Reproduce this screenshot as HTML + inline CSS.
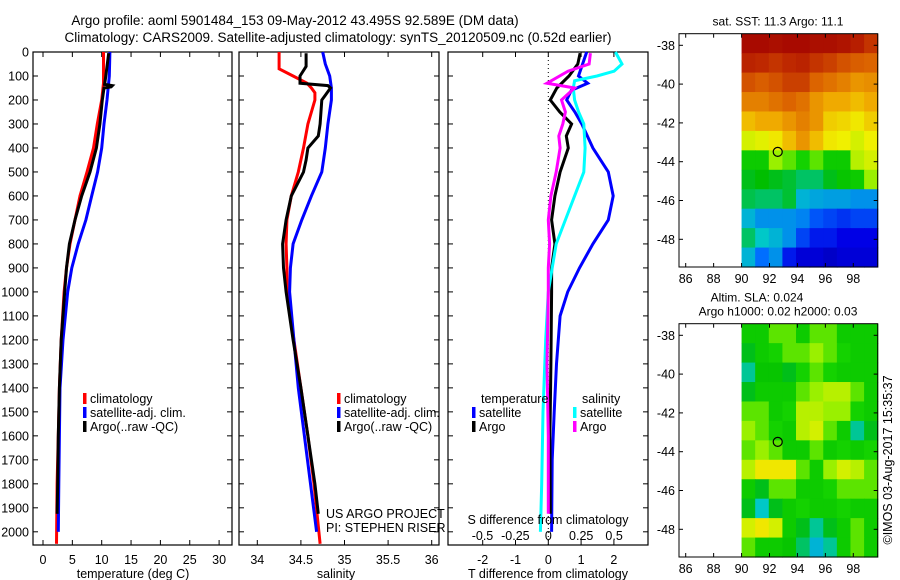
<!DOCTYPE html>
<html><head><meta charset="utf-8">
<style>
html,body{margin:0;padding:0;background:#fff;}
svg{display:block;font-family:"Liberation Sans",sans-serif;}
text{fill:#000;}
</style></head>
<body>
<svg id="chart" width="900" height="580" viewBox="0 0 900 580" xmlns="http://www.w3.org/2000/svg">
<text x="295" y="25" font-size="13.5" text-anchor="middle">Argo profile: aoml 5901484_153 09-May-2012 43.495S 92.589E (DM data)</text>
<text x="338" y="42" font-size="13.5" text-anchor="middle">Climatology: CARS2009. Satellite-adjusted climatology: synTS_20120509.nc (0.52d earlier)</text>
<g id="layer"></g>
</svg>
<script>
// ---------- data ----------
const depthTicks = [0,100,200,300,400,500,600,700,800,900,1000,1100,1200,1300,1400,1500,1600,1700,1800,1900,2000];
const tempTicks = [0,5,10,15,20,25,30];
const salTicks = [34,34.5,35,35.5,36];
const tdiffTicks = [-2,-1,0,1,2];
const sdiffTicks = [-0.5,-0.25,0,0.25,0.5];
const sdiffTickLabels = ["-0.5","-0.25","0","0.25","0.5"];

const tClimDepth = [0,130,200,300,400,500,600,700,800,900,1000,1200,1400,1600,1800,2050];
const tClim      = [10.3,10.3,10.0,9.25,8.6,7.5,6.3,5.45,4.6,4.0,3.6,3.1,2.8,2.6,2.4,2.3];
const tSatDepth  = [0,100,200,300,400,500,600,700,800,900,1000,1200,1400,1600,1800,2000];
const tSat       = [11.4,11.3,10.9,10.4,10.0,9.3,8.3,7.3,6.0,4.9,4.2,3.4,2.9,2.8,2.7,2.6];
const tArgoDepth = [5,100,135,140,145,150,200,300,400,500,600,700,800,900,1000,1200,1400,1600,1800,1925];
const tArgo      = [11.2,10.7,10.5,11.8,11.6,10.4,10.1,9.7,9.1,8.0,6.6,5.45,4.5,4.0,3.7,3.1,2.8,2.6,2.5,2.4];

const sClimDepth = [0,70,100,130,150,170,200,250,300,400,500,600,700,800,900,1000,1200,1400,1600,1800,2050];
const sClim      = [34.25,34.25,34.41,34.57,34.62,34.66,34.66,34.62,34.58,34.53,34.47,34.39,34.34,34.33,34.34,34.34,34.42,34.5,34.58,34.65,34.72];
const sSatDepth  = [0,50,100,150,200,300,400,500,600,700,800,900,1000,1200,1400,1600,1800,2000];
const sSat       = [34.75,34.78,34.83,34.85,34.85,34.81,34.78,34.74,34.62,34.51,34.41,34.38,34.37,34.42,34.47,34.54,34.61,34.68];
const sArgoDepth = [5,60,100,130,140,150,180,200,300,350,400,450,500,600,700,800,900,1000,1200,1400,1600,1800,1925];
const sArgo      = [34.56,34.56,34.49,34.49,34.81,34.84,34.78,34.74,34.72,34.70,34.58,34.56,34.53,34.39,34.33,34.29,34.30,34.33,34.41,34.5,34.58,34.66,34.70];

const dTSatDepth  = [0,100,130,160,200,250,300,400,500,600,700,800,900,1000,1100,1300,1500,1700,2000];
const dTSat       = [1.17,0.92,1.2,0.7,0.56,0.81,1.02,1.36,1.83,1.98,1.83,1.36,0.95,0.59,0.36,0.25,0.18,0.12,0.1];
const dTArgoDepth = [5,50,100,150,200,250,300,350,400,500,600,700,800,900,1000,1300,1600,1925];
const dTArgo      = [0.97,0.9,0.63,0.26,0.06,0.35,0.71,0.55,0.61,0.36,0.2,0.1,0.2,0.1,0.1,0.08,0.05,0.06];
const dSSatDepth  = [0,50,80,100,120,150,200,250,300,400,500,600,700,800,900,1000,1200,1500,1800,2000];
const dSSat       = [0.51,0.56,0.5,0.37,0.2,0.19,0.2,0.23,0.27,0.28,0.27,0.2,0.13,0.06,0.03,0.0,-0.02,-0.04,-0.05,-0.06];
const dSArgoDepth = [5,50,80,130,150,200,250,300,350,400,500,600,700,800,900,1000,1300,1600,1925];
const dSArgo      = [0.32,0.31,0.15,-0.01,0.2,0.1,0.13,0.11,0.08,0.09,0.06,0.02,0.0,0.01,0.0,0.0,-0.01,0.0,0.0];

const lonTicks = [86,88,90,92,94,96,98];
const latTicks = [-38,-40,-42,-44,-46,-48];
const sstGrid = [
[0.98,0.98,0.97,0.98,0.98,0.97,0.97,0.96,0.94,0.9],
[0.93,0.92,0.9,0.92,0.93,0.9,0.88,0.85,0.83,0.82],
[0.85,0.83,0.85,0.88,0.88,0.82,0.8,0.78,0.75,0.76],
[0.78,0.78,0.8,0.82,0.8,0.75,0.72,0.72,0.7,0.72],
[0.7,0.72,0.72,0.75,0.78,0.75,0.68,0.67,0.65,0.68],
[0.62,0.63,0.65,0.7,0.75,0.7,0.65,0.64,0.62,0.64],
[0.5,0.5,0.58,0.55,0.52,0.55,0.5,0.5,0.6,0.62],
[0.45,0.46,0.45,0.44,0.42,0.42,0.45,0.48,0.5,0.58],
[0.43,0.42,0.42,0.44,0.35,0.33,0.32,0.32,0.3,0.3],
[0.35,0.3,0.3,0.3,0.28,0.22,0.2,0.18,0.2,0.2],
[0.42,0.38,0.35,0.3,0.2,0.15,0.15,0.12,0.12,0.12],
[0.35,0.25,0.3,0.15,0.1,0.1,0.08,0.1,0.1,0.1]];
const slaGrid = [
[0.5,0.5,0.55,0.55,0.5,0.55,0.55,0.5,0.5,0.5],
[0.45,0.5,0.52,0.55,0.55,0.58,0.55,0.52,0.5,0.5],
[0.4,0.48,0.48,0.45,0.52,0.55,0.52,0.5,0.5,0.5],
[0.45,0.5,0.5,0.5,0.55,0.58,0.6,0.6,0.55,0.5],
[0.55,0.55,0.5,0.52,0.6,0.6,0.58,0.58,0.52,0.5],
[0.58,0.55,0.52,0.5,0.6,0.62,0.55,0.5,0.4,0.45],
[0.55,0.58,0.55,0.5,0.5,0.55,0.5,0.52,0.5,0.52],
[0.6,0.65,0.65,0.65,0.55,0.5,0.58,0.62,0.6,0.55],
[0.5,0.45,0.55,0.55,0.5,0.5,0.52,0.55,0.55,0.55],
[0.45,0.38,0.45,0.5,0.52,0.5,0.5,0.52,0.5,0.5],
[0.62,0.65,0.62,0.5,0.45,0.4,0.45,0.5,0.55,0.5],
[0.55,0.5,0.5,0.48,0.42,0.35,0.4,0.5,0.55,0.5]];
const floatLon = 92.589, floatLat = -43.495;

// ---------- helpers ----------
const NS = "http://www.w3.org/2000/svg";
const layer = document.getElementById('layer');
function mk(tag, attrs, parent){ const e=document.createElementNS(NS,tag); for(const k in attrs) e.setAttribute(k,attrs[k]); (parent||layer).appendChild(e); return e; }
function txt(x,y,s,size,anchor,parent){ const t=mk('text',{x:x,y:y,'font-size':size,'text-anchor':anchor||'middle'},parent); t.textContent=s; return t; }

const Y0=52, Y1=545, D0=0, D1=2055;
const yD = d => Y0 + (d-D0)/(D1-D0)*(Y1-Y0);
const xT = v => 43 + v*5.87;
const xS = v => 257.3 + (v-34)*87.2;
const xDT = v => 548.3 + v*32.8;
const xDS = v => 548.3 + v*131.6;

function panel(name, x0, x1, ticks, xf, labels){
  const g = mk('g',{});
  
  
  mk('rect',{x:x0,y:Y0,width:x1-x0,height:Y1-Y0,fill:'none',stroke:'#000','stroke-width':1.2},g);
  ticks.forEach((t,i)=>{
    const x=xf(t);
    mk('line',{x1:x,y1:Y1,x2:x,y2:Y1-5,stroke:'#000'},g);
    mk('line',{x1:x,y1:Y0,x2:x,y2:Y0+5,stroke:'#000'},g);
    if(labels){ const l=txt(x,564,labels[i],12.5,'middle',g);
      
       }
  });
  depthTicks.forEach(d=>{
    const y=yD(d);
    mk('line',{x1:x0,y1:y,x2:x0+5,y2:y,stroke:'#000'},g);
    mk('line',{x1:x1,y1:y,x2:x1-5,y2:y,stroke:'#000'},g);
  });
  return g;
}
function line(name, ds, vs, xf, color){
  const pts = ds.map((d,i)=>xf(vs[i]).toFixed(1)+','+yD(d).toFixed(1)).join(' ');
  const p = mk('polyline',{points:pts,fill:'none',stroke:color,'stroke-width':3,'stroke-linejoin':'miter'});
  
  
}
function legendEntry(name,x,y,color,label){
  const g=mk('g',{});
  
  
  mk('rect',{x:x,y:y-10,width:3.5,height:11,fill:color},g);
  txt(x+7,y,label,12.5,'start',g);
}

// y-axis labels
depthTicks.forEach(d=>{
  const t=txt(29,yD(d)+4.5,String(d),12.5,'end');
  
  
});

// panel 1
panel('temperature-panel',33,232,tempTicks,xT,tempTicks.map(String));
line('temp-climatology-line',tClimDepth,tClim,xT,'#f00');
line('temp-satellite-line',tSatDepth,tSat,xT,'#00f');
line('temp-argo-line',tArgoDepth,tArgo,xT,'#000');
let t1=txt(133,578,'temperature (deg C)',12.5);  
legendEntry('legend-climatology',83,403,'#f00','climatology');
legendEntry('legend-satellite-adj',83,417,'#00f','satellite-adj. clim.');
legendEntry('legend-argo',83,431,'#000','Argo(..raw -QC)');

// panel 2
panel('salinity-panel',239,439,salTicks,xS,salTicks.map(String));
line('sal-climatology-line',sClimDepth,sClim,xS,'#f00');
line('sal-satellite-line',sSatDepth,sSat,xS,'#00f');
line('sal-argo-line',sArgoDepth,sArgo,xS,'#000');
let t2=txt(336,578,'salinity',12.5);  
legendEntry('legend-climatology-2',337,403,'#f00','climatology');
legendEntry('legend-satellite-adj-2',337,417,'#00f','satellite-adj. clim.');
legendEntry('legend-argo-2',337,431,'#000','Argo(..raw -QC)');
let pr1=txt(326,518,'US ARGO PROJECT',12.5,'start');  
let pr2=txt(326,532,'PI: STEPHEN RISER',12.5,'start');  

// panel 3
panel('difference-panel',448,648,tdiffTicks,xDT,tdiffTicks.map(String));
mk('line',{x1:xDT(0),y1:Y0,x2:xDT(0),y2:Y1,stroke:'#000','stroke-dasharray':'1,3'});
line('tdiff-satellite-line',dTSatDepth,dTSat,xDT,'#00f');
line('tdiff-argo-line',dTArgoDepth,dTArgo,xDT,'#000');
line('sdiff-satellite-line',dSSatDepth,dSSat,xDS,'#0ff');
line('sdiff-argo-line',dSArgoDepth,dSArgo,xDS,'#f0f');
sdiffTicks.forEach((v,i)=>{ const l=txt(xDS(v),540,sdiffTickLabels[i],12.5);
  
   });
let t3=txt(548,524,'S difference from climatology',12.5);  
let t4=txt(548,578,'T difference from climatology',12.5);  
let lt=txt(481,403,'temperature',12.5,'start');  
let ls=txt(582,403,'salinity',12.5,'start');  
legendEntry('legend-t-satellite',472,417,'#00f','satellite');
legendEntry('legend-t-argo',472,431,'#000','Argo');
legendEntry('legend-s-satellite',573,417,'#0ff','satellite');
legendEntry('legend-s-argo',573,431,'#f0f','Argo');

// maps
function jet(v){
  const stops=[[0,[0,0,140]],[0.12,[0,0,230]],[0.25,[0,110,255]],[0.38,[0,200,200]],[0.46,[0,190,0]],[0.52,[20,210,0]],[0.57,[140,240,0]],[0.64,[240,240,0]],[0.72,[240,170,0]],[0.82,[220,100,0]],[0.92,[190,40,0]],[1,[160,0,0]]];
  for(let i=1;i<stops.length;i++){ if(v<=stops[i][0]){ const a=stops[i-1],b=stops[i],f=(v-a[0])/(b[0]-a[0]);
    const c=a[1].map((x,k)=>Math.round(x+(b[1][k]-x)*f)); return 'rgb('+c.join(',')+')'; } }
  return 'rgb(160,0,0)';
}
function map(name, top, grid, titles){
  const bottom=top+233.3, L=679, R=877.7;
  const lonX = lo => 685.7 + (lo-86)*(853.3-685.7)/12;
  const latY = la => top+11.6 + (-38-la)*(194/10);
  const g=mk('g',{});
  
  
  const rows=grid.length, cols=grid[0].length;
  const gx0=lonX(90), gx1=R, cw=(gx1-gx0)/cols, ch=(bottom-top)/rows;
  grid.forEach((row,r)=>row.forEach((v,c)=>{
    const cell=mk('rect',{x:(gx0+c*cw).toFixed(2),y:(top+r*ch).toFixed(2),width:(cw+0.6).toFixed(2),height:(ch+0.6).toFixed(2),fill:jet(v)},g);
    
    
  }));
  mk('rect',{x:L,y:top,width:R-L,height:bottom-top,fill:'none',stroke:'#000','stroke-width':1},g);
  lonTicks.forEach(lo=>{ const x=lonX(lo);
    mk('line',{x1:x,y1:bottom,x2:x,y2:bottom-4,stroke:'#000'},g);
    mk('line',{x1:x,y1:top,x2:x,y2:top+4,stroke:'#000'},g);
    const l=txt(x,bottom+16,String(lo),12.5,'middle',g);
    
     });
  latTicks.forEach(la=>{ const y=latY(la);
    mk('line',{x1:L,y1:y,x2:L+4,y2:y,stroke:'#000'},g);
    mk('line',{x1:R,y1:y,x2:R-4,y2:y,stroke:'#000'},g);
    const l=txt(675,y+4.5,String(la),12.5,'end',g);
    
     });
  const m=mk('circle',{cx:lonX(floatLon),cy:latY(floatLat),r:4.5,fill:'none',stroke:'#000','stroke-width':1.2},g);
  
  
  titles.forEach((s,i)=>{ const t=txt(titles.length>1&&i===0?757:778,top-8-(titles.length-1-i)*14,s,12,'middle',g);
    
     });
}
map('sst-map',33.7,sstGrid,['sat. SST: 11.3 Argo: 11.1']);
map('sla-map',323.7,slaGrid,['Altim. SLA: 0.024','Argo h1000: 0.02 h2000: 0.03']);
const cr=mk('text',{x:0,y:0,'font-size':12.5,'text-anchor':'middle',transform:'translate(892,460) rotate(-90)'});
cr.textContent='©IMOS 03-Aug-2017 15:35:37';


</script>
</body></html>
